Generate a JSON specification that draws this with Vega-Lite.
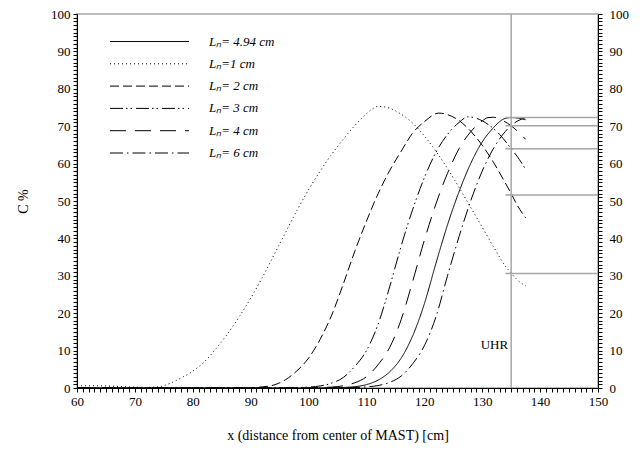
{
  "$schema": "https://vega.github.io/schema/vega-lite/v6.json",
  "width": 521,
  "height": 374,
  "autosize": {"type": "none"},
  "padding": {"left": 77, "top": 14, "right": 42, "bottom": 64},
  "background": "white",
  "config": {
    "view": {"stroke": "#a6a6a6", "strokeWidth": 1.5},
    "font": "Liberation Serif",
    "axis": {
      "domainColor": "black",
      "domainWidth": 1,
      "ticks": true,
      "tickColor": "black",
      "tickWidth": 1,
      "labelColor": "black",
      "titleColor": "black",
      "labelFont": "Liberation Serif",
      "titleFont": "Liberation Serif",
      "labelFontSize": 13,
      "titleFontSize": 14,
      "titleFontWeight": "normal",
      "grid": false,
      "labelOverlap": false,
      "labelFlush": false
    }
  },
  "datasets": {
    "curves": [
      {"Ln": "Lₙ= 4.94 cm", "x": 60, "c": 0},
      {"Ln": "Lₙ= 4.94 cm", "x": 100, "c": 0},
      {"Ln": "Lₙ= 4.94 cm", "x": 104, "c": 0.05},
      {"Ln": "Lₙ= 4.94 cm", "x": 106, "c": 0.15},
      {"Ln": "Lₙ= 4.94 cm", "x": 108, "c": 0.35},
      {"Ln": "Lₙ= 4.94 cm", "x": 110, "c": 0.9},
      {"Ln": "Lₙ= 4.94 cm", "x": 112, "c": 2.1},
      {"Ln": "Lₙ= 4.94 cm", "x": 114, "c": 4.3},
      {"Ln": "Lₙ= 4.94 cm", "x": 116, "c": 8},
      {"Ln": "Lₙ= 4.94 cm", "x": 118, "c": 14},
      {"Ln": "Lₙ= 4.94 cm", "x": 120, "c": 22.5},
      {"Ln": "Lₙ= 4.94 cm", "x": 122, "c": 33.3},
      {"Ln": "Lₙ= 4.94 cm", "x": 124, "c": 43.6},
      {"Ln": "Lₙ= 4.94 cm", "x": 126, "c": 52.5},
      {"Ln": "Lₙ= 4.94 cm", "x": 128, "c": 60},
      {"Ln": "Lₙ= 4.94 cm", "x": 130, "c": 65.8},
      {"Ln": "Lₙ= 4.94 cm", "x": 132, "c": 69.7},
      {"Ln": "Lₙ= 4.94 cm", "x": 133, "c": 71.2},
      {"Ln": "Lₙ= 4.94 cm", "x": 134, "c": 72.1},
      {"Ln": "Lₙ= 4.94 cm", "x": 135, "c": 72.3},
      {"Ln": "Lₙ= 4.94 cm", "x": 136, "c": 72.2},
      {"Ln": "Lₙ= 4.94 cm", "x": 137.5, "c": 71.7},

      {"Ln": "Lₙ=1 cm", "x": 60, "c": 0.6},
      {"Ln": "Lₙ=1 cm", "x": 63, "c": 0.6},
      {"Ln": "Lₙ=1 cm", "x": 66, "c": 0.5},
      {"Ln": "Lₙ=1 cm", "x": 69, "c": 0.3},
      {"Ln": "Lₙ=1 cm", "x": 72, "c": 0.15},
      {"Ln": "Lₙ=1 cm", "x": 74, "c": 0.3},
      {"Ln": "Lₙ=1 cm", "x": 76, "c": 1.2},
      {"Ln": "Lₙ=1 cm", "x": 78, "c": 2.7},
      {"Ln": "Lₙ=1 cm", "x": 80, "c": 4.5},
      {"Ln": "Lₙ=1 cm", "x": 82, "c": 7},
      {"Ln": "Lₙ=1 cm", "x": 84, "c": 10.5},
      {"Ln": "Lₙ=1 cm", "x": 86, "c": 14.5},
      {"Ln": "Lₙ=1 cm", "x": 88, "c": 19},
      {"Ln": "Lₙ=1 cm", "x": 90, "c": 24},
      {"Ln": "Lₙ=1 cm", "x": 92, "c": 29.5},
      {"Ln": "Lₙ=1 cm", "x": 94, "c": 35.5},
      {"Ln": "Lₙ=1 cm", "x": 96, "c": 41.5},
      {"Ln": "Lₙ=1 cm", "x": 98, "c": 47.5},
      {"Ln": "Lₙ=1 cm", "x": 100, "c": 53},
      {"Ln": "Lₙ=1 cm", "x": 102, "c": 58},
      {"Ln": "Lₙ=1 cm", "x": 104, "c": 62.5},
      {"Ln": "Lₙ=1 cm", "x": 106, "c": 66.5},
      {"Ln": "Lₙ=1 cm", "x": 108, "c": 70.2},
      {"Ln": "Lₙ=1 cm", "x": 110, "c": 73.3},
      {"Ln": "Lₙ=1 cm", "x": 111, "c": 74.6},
      {"Ln": "Lₙ=1 cm", "x": 112, "c": 75.3},
      {"Ln": "Lₙ=1 cm", "x": 113, "c": 75.2},
      {"Ln": "Lₙ=1 cm", "x": 114, "c": 74.8},
      {"Ln": "Lₙ=1 cm", "x": 116, "c": 73.2},
      {"Ln": "Lₙ=1 cm", "x": 118, "c": 70.8},
      {"Ln": "Lₙ=1 cm", "x": 120, "c": 67.4},
      {"Ln": "Lₙ=1 cm", "x": 122, "c": 63.3},
      {"Ln": "Lₙ=1 cm", "x": 124, "c": 58.7},
      {"Ln": "Lₙ=1 cm", "x": 126, "c": 53.6},
      {"Ln": "Lₙ=1 cm", "x": 128, "c": 48.3},
      {"Ln": "Lₙ=1 cm", "x": 130, "c": 43.0},
      {"Ln": "Lₙ=1 cm", "x": 132, "c": 37.6},
      {"Ln": "Lₙ=1 cm", "x": 134, "c": 32.6},
      {"Ln": "Lₙ=1 cm", "x": 135, "c": 30.7},
      {"Ln": "Lₙ=1 cm", "x": 136, "c": 29.0},
      {"Ln": "Lₙ=1 cm", "x": 137.5, "c": 27.3},

      {"Ln": "Lₙ= 2 cm", "x": 60, "c": 0},
      {"Ln": "Lₙ= 2 cm", "x": 88, "c": 0},
      {"Ln": "Lₙ= 2 cm", "x": 90, "c": 0.1},
      {"Ln": "Lₙ= 2 cm", "x": 92, "c": 0.3},
      {"Ln": "Lₙ= 2 cm", "x": 94, "c": 0.8},
      {"Ln": "Lₙ= 2 cm", "x": 96, "c": 2.2},
      {"Ln": "Lₙ= 2 cm", "x": 98, "c": 4.6},
      {"Ln": "Lₙ= 2 cm", "x": 100, "c": 8.0},
      {"Ln": "Lₙ= 2 cm", "x": 102, "c": 13},
      {"Ln": "Lₙ= 2 cm", "x": 104, "c": 19.5},
      {"Ln": "Lₙ= 2 cm", "x": 106, "c": 27.8},
      {"Ln": "Lₙ= 2 cm", "x": 108, "c": 36.6},
      {"Ln": "Lₙ= 2 cm", "x": 110, "c": 44.6},
      {"Ln": "Lₙ= 2 cm", "x": 112, "c": 51.9},
      {"Ln": "Lₙ= 2 cm", "x": 114, "c": 58.1},
      {"Ln": "Lₙ= 2 cm", "x": 116, "c": 63.3},
      {"Ln": "Lₙ= 2 cm", "x": 118, "c": 68.2},
      {"Ln": "Lₙ= 2 cm", "x": 120, "c": 71.2},
      {"Ln": "Lₙ= 2 cm", "x": 122.5, "c": 73.5},
      {"Ln": "Lₙ= 2 cm", "x": 124, "c": 73.1},
      {"Ln": "Lₙ= 2 cm", "x": 126, "c": 71.5},
      {"Ln": "Lₙ= 2 cm", "x": 128, "c": 68.7},
      {"Ln": "Lₙ= 2 cm", "x": 130, "c": 64.9},
      {"Ln": "Lₙ= 2 cm", "x": 132, "c": 60.2},
      {"Ln": "Lₙ= 2 cm", "x": 134, "c": 54.8},
      {"Ln": "Lₙ= 2 cm", "x": 135, "c": 52.0},
      {"Ln": "Lₙ= 2 cm", "x": 136, "c": 49.0},
      {"Ln": "Lₙ= 2 cm", "x": 137.5, "c": 45.5},

      {"Ln": "Lₙ= 3 cm", "x": 60, "c": 0},
      {"Ln": "Lₙ= 3 cm", "x": 95, "c": 0},
      {"Ln": "Lₙ= 3 cm", "x": 98, "c": 0.1},
      {"Ln": "Lₙ= 3 cm", "x": 100, "c": 0.25},
      {"Ln": "Lₙ= 3 cm", "x": 102, "c": 0.55},
      {"Ln": "Lₙ= 3 cm", "x": 104, "c": 1.3},
      {"Ln": "Lₙ= 3 cm", "x": 106, "c": 2.8},
      {"Ln": "Lₙ= 3 cm", "x": 108, "c": 5.8},
      {"Ln": "Lₙ= 3 cm", "x": 110, "c": 10},
      {"Ln": "Lₙ= 3 cm", "x": 112, "c": 17},
      {"Ln": "Lₙ= 3 cm", "x": 114, "c": 27},
      {"Ln": "Lₙ= 3 cm", "x": 116, "c": 38},
      {"Ln": "Lₙ= 3 cm", "x": 118, "c": 47.8},
      {"Ln": "Lₙ= 3 cm", "x": 120, "c": 56.2},
      {"Ln": "Lₙ= 3 cm", "x": 122, "c": 63},
      {"Ln": "Lₙ= 3 cm", "x": 124, "c": 67.8},
      {"Ln": "Lₙ= 3 cm", "x": 126, "c": 71},
      {"Ln": "Lₙ= 3 cm", "x": 127.5, "c": 72.5},
      {"Ln": "Lₙ= 3 cm", "x": 129, "c": 72.1},
      {"Ln": "Lₙ= 3 cm", "x": 131, "c": 70.5},
      {"Ln": "Lₙ= 3 cm", "x": 133, "c": 67.8},
      {"Ln": "Lₙ= 3 cm", "x": 135, "c": 64.0},
      {"Ln": "Lₙ= 3 cm", "x": 136, "c": 62.0},
      {"Ln": "Lₙ= 3 cm", "x": 137.5, "c": 58.5},

      {"Ln": "Lₙ= 4 cm", "x": 60, "c": 0},
      {"Ln": "Lₙ= 4 cm", "x": 100, "c": 0},
      {"Ln": "Lₙ= 4 cm", "x": 102, "c": 0.1},
      {"Ln": "Lₙ= 4 cm", "x": 104, "c": 0.25},
      {"Ln": "Lₙ= 4 cm", "x": 106, "c": 0.6},
      {"Ln": "Lₙ= 4 cm", "x": 108, "c": 1.4},
      {"Ln": "Lₙ= 4 cm", "x": 110, "c": 3.0},
      {"Ln": "Lₙ= 4 cm", "x": 112, "c": 6.2},
      {"Ln": "Lₙ= 4 cm", "x": 114, "c": 10.8},
      {"Ln": "Lₙ= 4 cm", "x": 116, "c": 18.3},
      {"Ln": "Lₙ= 4 cm", "x": 118, "c": 28.6},
      {"Ln": "Lₙ= 4 cm", "x": 120, "c": 39.5},
      {"Ln": "Lₙ= 4 cm", "x": 122, "c": 49.2},
      {"Ln": "Lₙ= 4 cm", "x": 124, "c": 57.4},
      {"Ln": "Lₙ= 4 cm", "x": 126, "c": 64},
      {"Ln": "Lₙ= 4 cm", "x": 128, "c": 68.5},
      {"Ln": "Lₙ= 4 cm", "x": 130, "c": 71.4},
      {"Ln": "Lₙ= 4 cm", "x": 131, "c": 72.3},
      {"Ln": "Lₙ= 4 cm", "x": 132, "c": 72.4},
      {"Ln": "Lₙ= 4 cm", "x": 133, "c": 71.9},
      {"Ln": "Lₙ= 4 cm", "x": 135, "c": 70.1},
      {"Ln": "Lₙ= 4 cm", "x": 136, "c": 68.8},
      {"Ln": "Lₙ= 4 cm", "x": 137.5, "c": 66.5},

      {"Ln": "Lₙ= 6 cm", "x": 60, "c": 0},
      {"Ln": "Lₙ= 6 cm", "x": 104, "c": 0},
      {"Ln": "Lₙ= 6 cm", "x": 106, "c": 0.05},
      {"Ln": "Lₙ= 6 cm", "x": 108, "c": 0.12},
      {"Ln": "Lₙ= 6 cm", "x": 110, "c": 0.3},
      {"Ln": "Lₙ= 6 cm", "x": 112, "c": 0.65},
      {"Ln": "Lₙ= 6 cm", "x": 114, "c": 1.5},
      {"Ln": "Lₙ= 6 cm", "x": 116, "c": 3.2},
      {"Ln": "Lₙ= 6 cm", "x": 118, "c": 6.5},
      {"Ln": "Lₙ= 6 cm", "x": 120, "c": 11.3},
      {"Ln": "Lₙ= 6 cm", "x": 122, "c": 19},
      {"Ln": "Lₙ= 6 cm", "x": 124, "c": 30},
      {"Ln": "Lₙ= 6 cm", "x": 126, "c": 40.5},
      {"Ln": "Lₙ= 6 cm", "x": 128, "c": 50},
      {"Ln": "Lₙ= 6 cm", "x": 130, "c": 58},
      {"Ln": "Lₙ= 6 cm", "x": 132, "c": 64.2},
      {"Ln": "Lₙ= 6 cm", "x": 134, "c": 68.6},
      {"Ln": "Lₙ= 6 cm", "x": 135, "c": 70.2},
      {"Ln": "Lₙ= 6 cm", "x": 136, "c": 71.3},
      {"Ln": "Lₙ= 6 cm", "x": 137.5, "c": 72.3}
    ],
    "levels": [
      {"c": 72.3},
      {"c": 70.1},
      {"c": 64.0},
      {"c": 51.6},
      {"c": 30.6}
    ],
    "marker": [
      {"label": "UHR", "x": 135, "c": 11.5}
    ]
  },
  "resolve": {"axis": {"y": "independent"}},
  "layer": [
    {
      "data": {"name": "curves"},
      "mark": {"type": "line", "color": "black", "strokeWidth": 1, "interpolate": "monotone"},
      "encoding": {
        "x": {
          "field": "x", "type": "quantitative",
          "scale": {"domain": [60, 150], "nice": false, "zero": false},
          "axis": {
            "title": "x (distance from center of MAST) [cm]",
            "format": "d",
            "tickCount": 500,
            "values": [60,61,62,63,64,65,66,67,68,69,70,71,72,73,74,75,76,77,78,79,80,81,82,83,84,85,86,87,88,89,90,91,92,93,94,95,96,97,98,99,100,101,102,103,104,105,106,107,108,109,110,111,112,113,114,115,116,117,118,119,120,121,122,123,124,125,126,127,128,129,130,131,132,133,134,135,136,137,138,139,140,141,142,143,144,145,146,147,148,149,150],
            "labelExpr": "datum.value % 10 === 0 ? datum.label : ''",
            "tickSize": 4,
            "labelPadding": 3,
            "titlePadding": 20
          }
        },
        "y": {
          "field": "c", "type": "quantitative",
          "scale": {"domain": [0, 100], "nice": false},
          "axis": {
            "title": "C %",
            "format": "d",
            "tickCount": 500,
            "values": [0,1,2,3,4,5,6,7,8,9,10,11,12,13,14,15,16,17,18,19,20,21,22,23,24,25,26,27,28,29,30,31,32,33,34,35,36,37,38,39,40,41,42,43,44,45,46,47,48,49,50,51,52,53,54,55,56,57,58,59,60,61,62,63,64,65,66,67,68,69,70,71,72,73,74,75,76,77,78,79,80,81,82,83,84,85,86,87,88,89,90,91,92,93,94,95,96,97,98,99,100],
            "labelExpr": "datum.value % 10 === 0 ? datum.label : ''",
            "tickSize": 4,
            "labelPadding": 3,
            "titlePadding": 20
          }
        },
        "strokeDash": {
          "field": "Ln", "type": "nominal",
          "scale": {
            "domain": ["Lₙ= 4.94 cm", "Lₙ=1 cm", "Lₙ= 2 cm", "Lₙ= 3 cm", "Lₙ= 4 cm", "Lₙ= 6 cm"],
            "range": [[1, 0], [1, 3], [9, 4], [13, 3, 1.5, 3, 1.5, 4], [16, 9], [13, 4, 1.5, 4]]
          },
          "legend": {
            "title": null,
            "orient": "none",
            "legendX": 66,
            "legendY": 21,
            "padding": 0,
            "symbolType": "M-16,0H16",
            "symbolSize": 24.4,
            "symbolStrokeWidth": 1,
            "symbolStrokeColor": "black",
            "labelFont": "Liberation Serif",
            "labelFontSize": 13,
            "labelFontStyle": "italic",
            "labelColor": "black",
            "labelOffset": 53,
            "rowPadding": 8.3
          }
        }
      }
    },
    {
      "data": {"name": "marker"},
      "mark": {"type": "rule", "color": "#a6a6a6", "strokeWidth": 1.5},
      "encoding": {
        "x": {"field": "x", "type": "quantitative"}
      }
    },
    {
      "data": {"name": "levels"},
      "mark": {"type": "rule", "color": "#a6a6a6", "strokeWidth": 1.5},
      "encoding": {
        "x": {"datum": 134},
        "x2": {"datum": 150},
        "y": {
          "field": "c", "type": "quantitative",
          "axis": {
            "orient": "right",
            "title": null,
            "format": "d",
            "tickCount": 500,
            "values": [0,1,2,3,4,5,6,7,8,9,10,11,12,13,14,15,16,17,18,19,20,21,22,23,24,25,26,27,28,29,30,31,32,33,34,35,36,37,38,39,40,41,42,43,44,45,46,47,48,49,50,51,52,53,54,55,56,57,58,59,60,61,62,63,64,65,66,67,68,69,70,71,72,73,74,75,76,77,78,79,80,81,82,83,84,85,86,87,88,89,90,91,92,93,94,95,96,97,98,99,100],
            "labelExpr": "datum.value % 10 === 0 ? datum.label : ''",
            "tickSize": 4,
            "labelPadding": 7
          }
        }
      }
    },
    {
      "data": {"name": "marker"},
      "mark": {"type": "text", "align": "right", "baseline": "middle", "dx": -3, "font": "Liberation Serif", "fontSize": 13, "color": "black"},
      "encoding": {
        "x": {"field": "x", "type": "quantitative"},
        "y": {"field": "c", "type": "quantitative", "axis": null},
        "text": {"field": "label"}
      }
    }
  ]
}
